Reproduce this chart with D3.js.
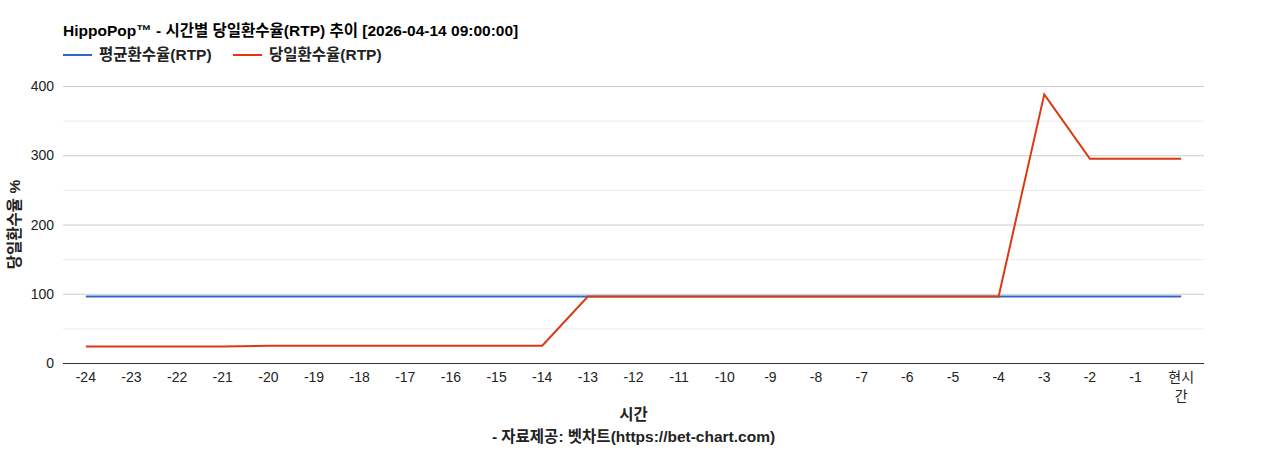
<!DOCTYPE html>
<html>
<head>
<meta charset="utf-8">
<script src="https://cdn.jsdelivr.net/npm/d3@7"></script>
<style>
  body { margin: 0; background: #fff; }
  text { font-family: Arial, "Liberation Sans", "Noto Sans CJK KR", sans-serif; }
</style>
</head>
<body>
<svg id="chart" width="1268" height="450"></svg>
<script>
// categories (hours before now)
var hours = ["-24","-23","-22","-21","-20","-19","-18","-17","-16","-15","-14","-13","-12",
  "-11","-10","-9","-8","-7","-6","-5","-4","-3","-2","-1","현시간"];
var avgRtp = [96,96,96,96,96,96,96,96,96,96,96,96,96,96,96,96,96,96,96,96,96,96,96,96,96];
var dayRtp = [24,24,24,24,25,25,25,25,25,25,25,96,96,96,96,96,96,96,96,96,96,388,295,295,295];
var yTicks = [0,100,200,300,400];
var yMinor = [50,150,250,350];
var seriesNames = ["평균환수율(RTP)", "당일환수율(RTP)"];
var seriesColors = ["#3366cc", "#dc3912"];

var svg = d3.select("#chart"),
  margin = {top: 86, right: 64, bottom: 87, left: 63},
  width = +svg.attr("width") - margin.left - margin.right,
  height = +svg.attr("height") - margin.top - margin.bottom;

var x = d3.scalePoint().domain(hours).range([0, width]).padding(0.5),
  y = d3.scaleLinear().domain([0, 400]).range([height, 0]);

var boldSize = 15.5;

// title
svg.append("text")
  .attr("x", 63).attr("y", 36)
  .attr("font-size", boldSize).attr("font-weight", "bold").attr("fill", "#000")
  .text("HippoPop™ - 시간별 당일환수율(RTP) 추이 [2026-04-14 09:00:00]");

// legend
var lx = [63, 233];
seriesNames.forEach(function(name, i) {
  svg.append("line")
    .attr("x1", lx[i]).attr("x2", lx[i] + 29)
    .attr("y1", 55).attr("y2", 55)
    .attr("stroke", seriesColors[i]).attr("stroke-width", 2);
  svg.append("text")
    .attr("x", lx[i] + 36).attr("y", 60)
    .attr("font-size", boldSize).attr("font-weight", "bold").attr("fill", "#222")
    .text(name);
});

var g = svg.append("g")
  .attr("transform", "translate(" + margin.left + "," + margin.top + ")");

// gridlines
g.selectAll(".minor").data(yMinor).enter().append("line")
  .attr("x1", 0).attr("x2", width)
  .attr("y1", function(d) { return y(d) + 0.5; })
  .attr("y2", function(d) { return y(d) + 0.5; })
  .attr("stroke", "#ebebeb");
g.selectAll(".major").data(yTicks.slice(1)).enter().append("line")
  .attr("x1", 0).attr("x2", width)
  .attr("y1", function(d) { return y(d) + 0.5; })
  .attr("y2", function(d) { return y(d) + 0.5; })
  .attr("stroke", "#cccccc");

// y tick labels
g.selectAll(".ylab").data(yTicks).enter().append("text")
  .attr("x", -9).attr("y", function(d) { return y(d) + 5; })
  .attr("text-anchor", "end").attr("font-size", 14).attr("fill", "#222")
  .text(function(d) { return d; });

// x axis baseline
g.append("line")
  .attr("x1", 0).attr("x2", width)
  .attr("y1", height + 0.5).attr("y2", height + 0.5)
  .attr("stroke", "#333");

// x tick labels ("현시간" wraps onto two lines)
g.selectAll(".xlab").data(hours).enter().append("text")
  .attr("x", function(d) { return x(d); })
  .attr("y", height + 19)
  .attr("text-anchor", "middle").attr("font-size", 14).attr("fill", "#222")
  .each(function(d) {
    var t = d3.select(this);
    if (isNaN(+d)) {
      t.append("tspan").attr("x", x(d)).attr("dy", 0).text(d.slice(0, 2));
      t.append("tspan").attr("x", x(d)).attr("dy", 19).text(d.slice(2));
    } else {
      t.text(d);
    }
  });

// lines
var line = d3.line()
  .x(function(d, i) { return x(hours[i]); })
  .y(function(d) { return y(d); });

[avgRtp, dayRtp].forEach(function(s, i) {
  g.append("path")
    .datum(s)
    .attr("fill", "none")
    .attr("stroke", seriesColors[i])
    .attr("stroke-width", 2)
    .attr("d", line);
});

// axis titles
svg.append("text")
  .attr("x", margin.left + width / 2).attr("y", 420)
  .attr("text-anchor", "middle").attr("font-size", boldSize).attr("font-weight", "bold").attr("fill", "#222")
  .text("시간");
svg.append("text")
  .attr("x", margin.left + width / 2).attr("y", 442)
  .attr("text-anchor", "middle").attr("font-size", boldSize).attr("font-weight", "bold").attr("fill", "#222")
  .text("- 자료제공: 벳차트(https://bet-chart.com)");
svg.append("text")
  .attr("transform", "translate(20," + (margin.top + height / 2) + ") rotate(-90)")
  .attr("text-anchor", "middle").attr("font-size", boldSize).attr("font-weight", "bold").attr("fill", "#222")
  .text("당일환수율 %");
</script>
</body>
</html>
